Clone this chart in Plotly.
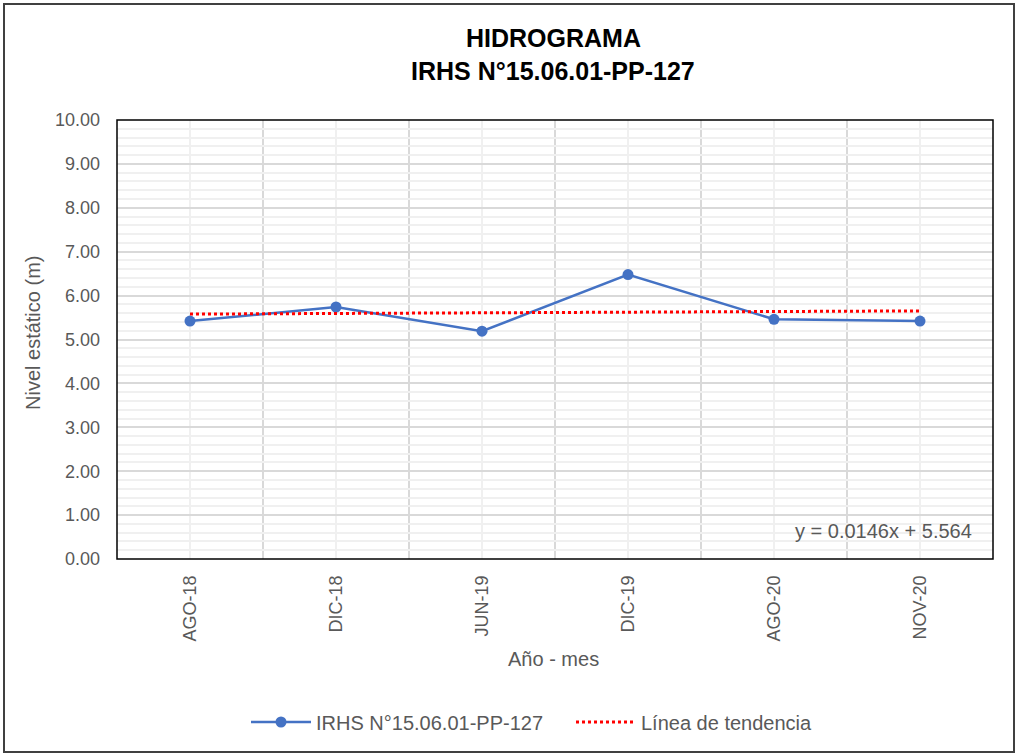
import plotly.graph_objects as go

# ---- data ----
categories = ["AGO-18", "DIC-18", "JUN-19", "DIC-19", "AGO-20", "NOV-20"]
nivel = [5.42, 5.74, 5.19, 6.48, 5.46, 5.42]
trend_slope = 0.0146
trend_intercept = 5.564
y_ticks = [0, 1, 2, 3, 4, 5, 6, 7, 8, 9, 10]

xpos = list(range(1, len(categories) + 1))
trend = [trend_slope * x + trend_intercept for x in xpos]

W, H = 1017, 754
# plot area in page pixels: x 117..993, y 120..559
L, R, T, B = 117, 1017 - 993, 120, 754 - 559
PW, PH = W - L - R, H - T - B

def px_x(px):
    return (px - L) / PW

def px_y(py):
    return (H - B - py) / PH

FONT = "Liberation Sans, Arial, sans-serif"
GRAY = "#595959"

fig = go.Figure()
fig.add_trace(go.Scatter(
    x=xpos, y=nivel, mode="lines+markers",
    name="IRHS N°15.06.01-PP-127",
    line=dict(color="#4472C4", width=2.5),
    marker=dict(color="#4472C4", size=11),
))
fig.add_trace(go.Scatter(
    x=xpos, y=trend, mode="lines",
    name="Línea de tendencia",
    line=dict(color="#FF0000", width=3, dash="dot"),
))

fig.update_layout(
    width=W, height=H,
    margin=dict(l=L, r=R, t=T, b=B),
    paper_bgcolor="white", plot_bgcolor="white",
    font=dict(family=FONT, size=18, color=GRAY),
    showlegend=True,
    legend=dict(orientation="h", xref="paper", yref="paper",
                x=px_x(246), y=px_y(722), xanchor="left", yanchor="middle",
                font=dict(size=20, color=GRAY), itemwidth=60,
                entrywidth=250, entrywidthmode="pixels",
                traceorder="normal"),
    annotations=[
        dict(text="<b>HIDROGRAMA</b>", xref="paper", yref="paper",
             x=px_x(553), y=px_y(38), showarrow=False,
             font=dict(size=25, color="black", family=FONT),
             xanchor="center", yanchor="middle"),
        dict(text="<b>IRHS N°15.06.01-PP-127</b>", xref="paper", yref="paper",
             x=px_x(553), y=px_y(71), showarrow=False,
             font=dict(size=25, color="black", family=FONT),
             xanchor="center", yanchor="middle"),
        dict(text="Nivel estático (m)", xref="paper", yref="paper",
             x=px_x(33), y=px_y(333), showarrow=False, textangle=-90,
             font=dict(size=20, color=GRAY),
             xanchor="center", yanchor="middle"),
        dict(text="Año - mes", xref="paper", yref="paper",
             x=px_x(553), y=px_y(659), showarrow=False,
             font=dict(size=20, color=GRAY),
             xanchor="center", yanchor="middle"),
        dict(text=f"y = {trend_slope}x + {trend_intercept}", xref="paper", yref="paper",
             x=px_x(883), y=px_y(531), showarrow=False,
             font=dict(size=20, color=GRAY),
             xanchor="center", yanchor="middle"),
    ],
    shapes=[
        dict(type="rect", xref="paper", yref="paper", x0=0, x1=1, y0=0, y1=1,
             line=dict(color="black", width=1.5), layer="above"),
        dict(type="rect", xref="paper", yref="paper",
             x0=px_x(4), x1=px_x(1014), y0=px_y(752), y1=px_y(4),
             line=dict(color="#404040", width=2), layer="above"),
    ],
)

fig.update_xaxes(
    range=[0.5, len(categories) + 0.5],
    tickmode="array", tickvals=xpos, ticktext=categories,
    tickangle=-90, ticks="", ticklabelstandoff=12,
    showgrid=True, gridcolor="#f0f0f0", gridwidth=1.5,
    minor=dict(tickmode="linear", tick0=0.5, dtick=1, showgrid=True,
               gridcolor="#d9d9d9", gridwidth=1.5, ticks=""),
    zeroline=False, showline=False,
    tickfont=dict(size=18, color=GRAY),
)
fig.update_yaxes(
    range=[0, 10], tickmode="array", tickvals=y_ticks, tickformat=".2f",
    ticks="", ticklabelstandoff=16,
    showgrid=True, gridcolor="#d9d9d9", gridwidth=1.5,
    minor=dict(tickmode="linear", tick0=0, dtick=0.2, showgrid=True,
               gridcolor="#f0f0f0", gridwidth=1.5, ticks=""),
    zeroline=False, showline=False,
    tickfont=dict(size=18, color=GRAY),
)

fig.write_html(
    "out.html",
    config={"displayModeBar": False},
    post_script="document.body.style.margin='0px';document.body.style.overflow='hidden';",
)
